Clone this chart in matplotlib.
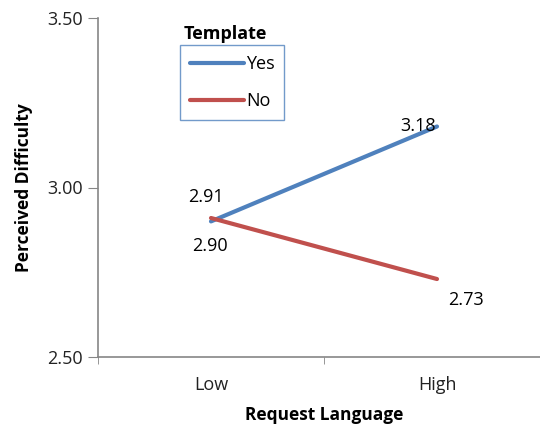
import numpy as np
import matplotlib.pyplot as plt
from matplotlib import rcParams

# Font settings
rcParams['font.family'] = 'sans-serif'
rcParams['font.sans-serif'] = ['Open Sans', 'DejaVu Sans']
rcParams['font.size'] = 13

# Data
categories = ['Low', 'High']
yes_vals = [2.90, 3.18]
no_vals = [2.91, 2.73]
yes_labels = ['2.90', '3.18']
no_labels = ['2.91', '2.73']

blue = '#4F81BD'
red = '#C0504D'
axis_grey = '#868686'

fig = plt.figure(figsize=(5.4, 4.28), dpi=100)
ax = fig.add_axes([98 / 540, 71 / 428, 452 / 540, 339 / 428])

x = np.arange(len(categories))
ax.plot(x, yes_vals, color=blue, lw=3, solid_capstyle='round', label='Yes')
ax.plot(x, no_vals, color=red, lw=3, solid_capstyle='round', label='No')

# --- Data labels ---
ax.annotate(no_labels[0], (x[0], no_vals[0]), xytext=(-4, 15), textcoords='offset points',
            ha='center', va='center', fontsize=13)
ax.annotate(yes_labels[0], (x[0], yes_vals[0]), xytext=(-1, -18), textcoords='offset points',
            ha='center', va='center', fontsize=13)
ax.annotate(yes_labels[1], (x[1], yes_vals[1]), xytext=(-14, 0), textcoords='offset points',
            ha='center', va='center', fontsize=13)
ax.annotate(no_labels[1], (x[1], no_vals[1]), xytext=(21, -15), textcoords='offset points',
            ha='center', va='center', fontsize=13)

# --- Axes ---
ax.set_xlim(-0.5, 1.5)
ax.set_ylim(2.5, 3.5)
ax.set_yticks([2.5, 3.0, 3.5])
ax.set_yticklabels(['2.50', '3.00', '3.50'])
ax.set_xticks(x)
ax.set_xticklabels(categories)
ax.set_xticks([-0.5, 0.5, 1.5], minor=True)
ax.tick_params(axis='x', which='major', length=0, pad=14, colors='#222222')
ax.tick_params(axis='x', which='minor', length=5, color=axis_grey)
ax.tick_params(axis='y', length=7, color=axis_grey, labelcolor='#222222', pad=4)
for side in ['top', 'right']:
    ax.spines[side].set_visible(False)
for side in ['left', 'bottom']:
    ax.spines[side].set_color(axis_grey)
    ax.spines[side].set_linewidth(1.2)

ax.set_xlabel('Request Language', fontweight='bold', fontsize=12.5, labelpad=8)
ax.set_ylabel('Perceived Difficulty', fontweight='bold', fontsize=12.5, labelpad=10)

# --- Legend ---
fig.text(225 / 540, 1 - 34 / 428, 'Template', fontweight='bold', ha='center', va='center')
leg = ax.legend(loc='upper left', bbox_to_anchor=(180 / 540, 1 - 45 / 428),
                bbox_transform=fig.transFigure, borderaxespad=0, fancybox=False,
                handlelength=3.0, handletextpad=0.1, labelspacing=1.05,
                borderpad=0.55, frameon=True)
leg.get_frame().set_edgecolor(blue)
leg.get_frame().set_linewidth(1.0)

plt.savefig('out.png', dpi=100)
